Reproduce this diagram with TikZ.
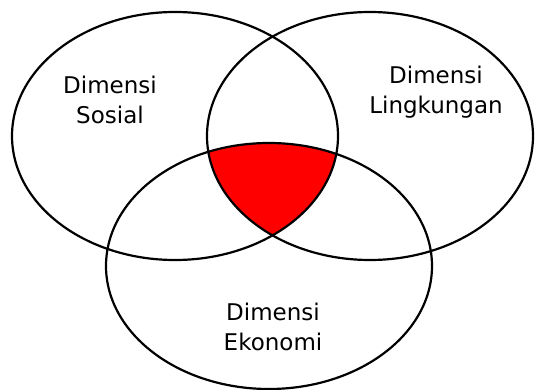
\documentclass[tikz,border=0pt]{standalone}
\usepackage{fontspec}
\setmainfont{DejaVu Sans}
\usetikzlibrary{positioning,shapes.geometric}
\usepackage{xcolor}
\definecolor{VennRed}{HTML}{FF0000}
\tikzset{
  ring/.style={draw=black, line width=2.2pt, ellipse, inner sep=0pt,
               minimum width=326pt, minimum height=248pt},
  dimlabel/.style={align=center, font=\fontsize{23}{30}\selectfont},
}

\begin{document}
\begin{tikzpicture}[x=1pt,y=1pt]
  \useasboundingbox[fill=white] (0,0) rectangle (535,389);
  % the common part
  \begin{scope}
    \clip (175,253) ellipse [x radius=163, y radius=124];
    \clip (370,253) ellipse [x radius=163, y radius=124];
    \fill[VennRed] (269,123) ellipse [x radius=163, y radius=123];
  \end{scope}
  \node[ring] (sos) at (175,253) {};
  \node[ring] (lin) at (370,253) {};
  \node[ring, minimum height=246pt] (eko) at (269,123) {};
  \node[dimlabel] (tsos) at (110,289) {Dimensi\\Sosial};
  \node[dimlabel] (tlin) at (436,297) {Dimensi\\Lingkungan};
  \node[dimlabel] (teko) at (273,62) {Dimensi\\Ekonomi};
\end{tikzpicture}
\end{document}
